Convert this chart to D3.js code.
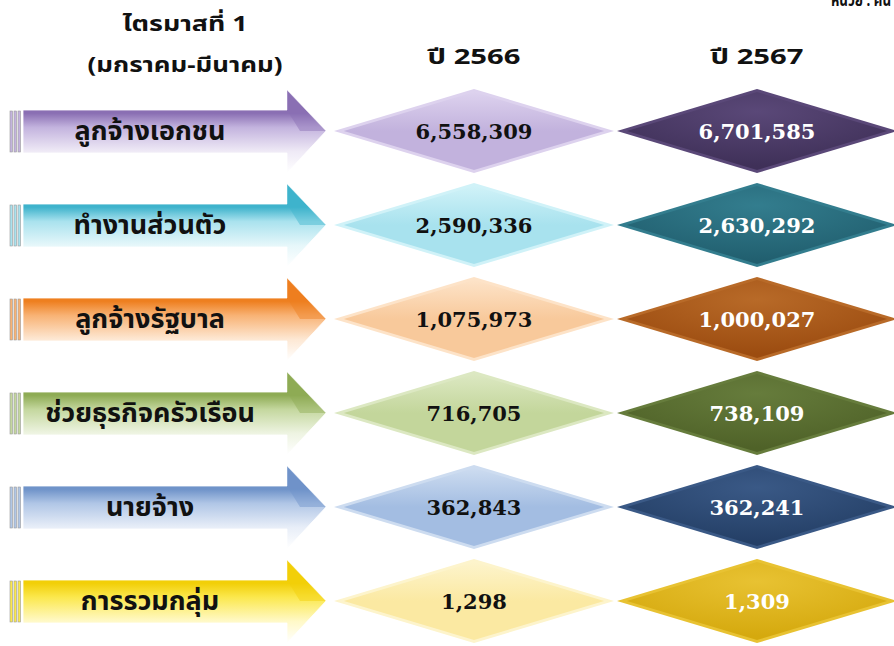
<!DOCTYPE html>
<html><head><meta charset="utf-8">
<script src="https://cdn.jsdelivr.net/npm/d3@7"></script>
<style>
html,body{margin:0;padding:0;background:#fff;}
svg{display:block;}
</style></head>
<body>
<script>
// ---- data ----
const categories = ["ลูกจ้างเอกชน","ทำงานส่วนตัว","ลูกจ้างรัฐบาล","ช่วยธุรกิจครัวเรือน","นายจ้าง","การรวมกลุ่ม"];
const years = ["ปี 2566","ปี 2567"];
const values2566 = [6558309, 2590336, 1075973, 716705, 362843, 1298];
const values2567 = [6701585, 2630292, 1000027, 738109, 362241, 1309];
const titleLines = ["ไตรมาสที่ 1","(มกราคม-มีนาคม)"];
const unitLabel = "หน่วย : คน";

// ---- styles ----
const arrowTop   = ["#8a6fb3","#3fb3cc","#ee7f1f","#8eab54","#6f93c9","#f2cf08"];
const arrowMid   = ["#c3b3de","#a9e2ee","#f8b274","#c4d79e","#b0c6e6","#fbe84e"];
const arrowBot   = ["#efeaf6","#e6f7fa","#fde8d4","#eef4e2","#e8eef8","#fff9c8"];
const lightFill  = ["#c2b2dd","#a8e2ee","#f8c99b","#c3d69b","#a3bde2","#fbe9a2"];
const lightEdge  = ["#ddd2ee","#d0f2f8","#fde3c8","#dce8c2","#cddcf0","#fdf4cc"];
const darkFill   = ["#3f3058","#215f6f","#9c4c10","#4f6228","#243f66","#d5a90e"];
const darkEdge   = ["#5a4878","#337d8e","#b86a28","#667c3c","#3a5986","#e8c232"];

const W = 894, H = 646;
const svg = d3.select("body").append("svg").attr("width", W).attr("height", H);
const defs = svg.append("defs");

const y = d3.scaleBand().domain(categories).range([84, 648]).paddingInner(0);
const x = d3.scalePoint().domain(years).range([474, 757]);
const fmt = d3.format(",");

const thaiFont = "Tahoma, 'Noto Sans Thai', 'Noto Sans', 'DejaVu Sans', sans-serif";

// header
svg.append("text").attr("x", 185).attr("y", 31).attr("text-anchor","middle")
  .attr("font-family", thaiFont).attr("font-weight","bold").attr("font-size", 21)
  .attr("textLength", 125).attr("lengthAdjust","spacingAndGlyphs").attr("fill","#111")
  .text(titleLines[0]);
svg.append("text").attr("x", 185).attr("y", 72).attr("text-anchor","middle")
  .attr("font-family", thaiFont).attr("font-weight","bold").attr("font-size", 21)
  .attr("textLength", 195).attr("lengthAdjust","spacingAndGlyphs").attr("fill","#111")
  .text(titleLines[1]);
svg.selectAll("text.year").data(years).enter().append("text").attr("class","year")
  .attr("x", d => x(d)).attr("y", 64).attr("text-anchor","middle")
  .attr("font-family", thaiFont).attr("font-weight","bold").attr("font-size", 21)
  .attr("textLength", 93).attr("lengthAdjust","spacingAndGlyphs").attr("fill","#111")
  .text(d => d);
svg.append("text").attr("x", 891).attr("y", 6).attr("text-anchor","end")
  .attr("font-family", thaiFont).attr("font-weight","bold").attr("font-size", 17)
  .attr("textLength", 60).attr("lengthAdjust","spacingAndGlyphs")
  .attr("fill","#111").text(unitLabel);

// gradients
categories.forEach((c, i) => {
  const g = defs.append("linearGradient").attr("id","ag"+i).attr("x1",0).attr("y1",0).attr("x2",0).attr("y2",1);
  g.append("stop").attr("offset","0%").attr("stop-color", arrowTop[i]);
  g.append("stop").attr("offset","28%").attr("stop-color", arrowTop[i]);
  g.append("stop").attr("offset","45%").attr("stop-color", arrowMid[i]);
  g.append("stop").attr("offset","74%").attr("stop-color", arrowBot[i]);
  g.append("stop").attr("offset","100%").attr("stop-color", "#ffffff");
  const lg = defs.append("linearGradient").attr("id","lg"+i).attr("x1",0).attr("y1",0).attr("x2",0).attr("y2",1);
  lg.append("stop").attr("offset","0%").attr("stop-color", lightEdge[i]);
  lg.append("stop").attr("offset","50%").attr("stop-color", lightFill[i]);
  lg.append("stop").attr("offset","100%").attr("stop-color", lightFill[i]);
  const dg = defs.append("radialGradient").attr("id","dg"+i).attr("cx","50%").attr("cy","25%").attr("r","70%");
  dg.append("stop").attr("offset","0%").attr("stop-color", darkEdge[i]);
  dg.append("stop").attr("offset","100%").attr("stop-color", darkFill[i]);
});

const rows = svg.selectAll("g.row").data(categories).enter().append("g").attr("class","row")
  .attr("transform", d => `translate(0,${y(d) + y.bandwidth()/2})`);

// arrows
function arrowPath(){
  const p = d3.path();
  p.moveTo(23,-21); p.lineTo(287,-21); p.lineTo(287,-41); p.lineTo(326,0);
  p.lineTo(287,42); p.lineTo(287,22); p.lineTo(23,22); p.closePath();
  return p.toString();
}
rows.append("path").attr("d", arrowPath())
  .attr("fill", (d,i) => `url(#ag${i})`).attr("stroke", "#ffffff").attr("stroke-width", 0.8);
// head shading (darker upper facet)
rows.append("path").attr("d", "M287,-41L326,0L300,0L287,-21Z")
  .attr("fill", (d,i) => arrowTop[i]).attr("opacity", 0.45);
// left stripes
[10,14,18].forEach(sx => {
  rows.append("rect").attr("x", sx).attr("y", -20).attr("width", 2.5).attr("height", 41)
    .attr("fill", (d,i) => arrowMid[i]).attr("stroke","#9a9a9a").attr("stroke-width",0.6);
});
rows.append("text").attr("x", 150).attr("y", 9).attr("text-anchor","middle")
  .attr("font-family", thaiFont).attr("font-weight","bold").attr("font-size", 27)
  .attr("fill","#111").text(d => d);

// diamonds
const hw = 140, hh = 42;
function diamond(cx, s){ return `M${cx-hw*s},0L${cx},${-hh*s}L${cx+hw*s},0L${cx},${hh*s}Z`; }
const cols = [
  {year: years[0], vals: values2566, fill: i => lightEdge[i], inner: i => `url(#lg${i})`, txt:"#111"},
  {year: years[1], vals: values2567, fill: i => darkEdge[i],  inner: i => `url(#dg${i})`, txt:"#ffffff"}
];
cols.forEach(col => {
  const cx = x(col.year);
  rows.append("path").attr("d", diamond(cx, 1)).attr("fill", (d,i) => col.fill(i));
  rows.append("path").attr("d", diamond(cx, 0.93)).attr("fill", (d,i) => col.inner(i));
  rows.append("text").attr("x", cx).attr("y", 8).attr("text-anchor","middle")
    .attr("font-family", "'DejaVu Serif', serif").attr("font-weight","bold").attr("font-size", 21)
    .attr("fill", col.txt).text((d,i) => fmt(col.vals[i]));
});
</script>
</body></html>
